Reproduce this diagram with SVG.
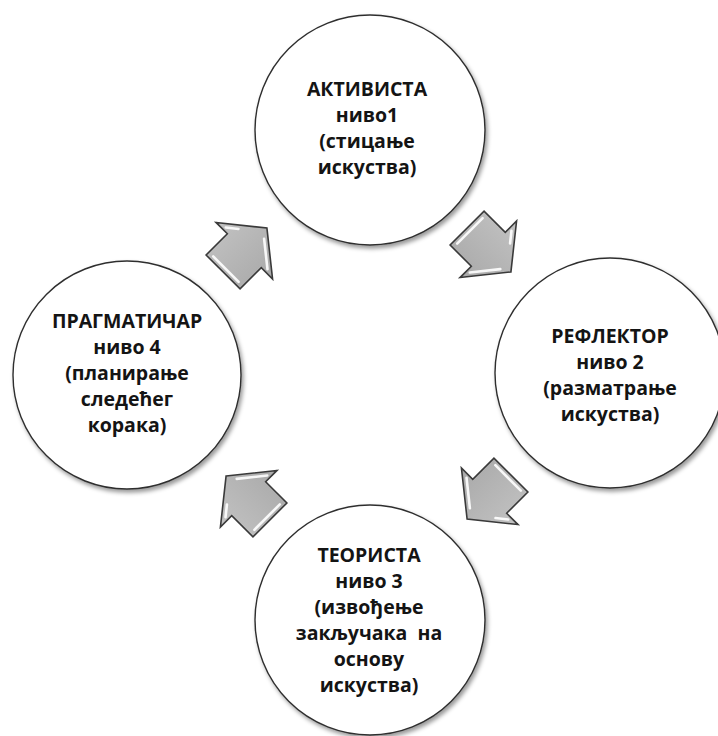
<svg xmlns="http://www.w3.org/2000/svg" xmlns:xlink="http://www.w3.org/1999/xlink" width="718" height="736" viewBox="0 0 718 736">
  <defs>
    <style>
      .stage { fill: #ffffff; stroke: #2e2e2e; stroke-width: 1.4; filter: url(#softShadow); }
      .label { font-family: "Open Sans", "Noto Sans", "DejaVu Sans", sans-serif; font-weight: 700; font-size: 19.5px; fill: #141414; text-anchor: middle; }
      .arrow-body { fill: url(#arrowFill); stroke: #3a3a3a; stroke-width: 1.6; stroke-linejoin: miter; }
      .arrow-glint { fill: none; stroke: #ffffff; stroke-width: 2.6; stroke-linecap: round; opacity: 0.9; }
    </style>
    <filter id="softShadow" x="-10%" y="-10%" width="125%" height="125%">
      <feDropShadow dx="2" dy="3" stdDeviation="2" flood-color="#000000" flood-opacity="0.4"/>
    </filter>
    <linearGradient id="arrowFill" x1="0" y1="0" x2="0" y2="1">
      <stop offset="0" stop-color="#c2c2c2"/>
      <stop offset="1" stop-color="#a9a9a9"/>
    </linearGradient>
    <!-- block arrow pointing along +x, centred on the barb line -->
    <g id="cycleArrow">
      <path class="arrow-body" d="M31,0 L-1,40 L-1,24 L-31,24 L-31,-24 L-1,-24 L-1,-40 Z"/>
      <path class="arrow-glint" d="M21.5,5.5 L2.3,29.5"/>
      <path class="arrow-glint" d="M-27,-18 L-27,18"/>
      <path class="arrow-glint" d="M2.3,-29.5 L10.3,-19.5"/>
    </g>
  </defs>

  <rect width="718" height="736" fill="#ffffff"/>

  <g id="connectors">
    <use xlink:href="#cycleArrow" transform="translate(245,250) rotate(-45)"/>
    <use xlink:href="#cycleArrow" transform="translate(489,250) rotate(45)"/>
    <use xlink:href="#cycleArrow" transform="translate(489,497) rotate(135)"/>
    <use xlink:href="#cycleArrow" transform="translate(248,498) rotate(-135)"/>
  </g>

  <g id="activist">
    <circle class="stage" cx="370" cy="130" r="115"/>
    <text class="label" x="367" y="96">АКТИВИСТА</text>
    <text class="label" x="367" y="122">ниво1</text>
    <text class="label" x="367" y="148">(стицање</text>
    <text class="label" x="367" y="174">искуства)</text>
  </g>

  <g id="reflector">
    <circle class="stage" cx="610" cy="373" r="115"/>
    <text class="label" x="610" y="343">РЕФЛЕКТОР</text>
    <text class="label" x="610" y="369">ниво 2</text>
    <text class="label" x="610" y="395">(разматрање</text>
    <text class="label" x="610" y="421">искуства)</text>
  </g>

  <g id="theorist">
    <circle class="stage" cx="370" cy="620" r="115"/>
    <text class="label" x="369" y="562">ТЕОРИСТА</text>
    <text class="label" x="369" y="588">ниво 3</text>
    <text class="label" x="369" y="614">(извођење</text>
    <text class="label" x="369" y="640" xml:space="preserve">закључака  на</text>
    <text class="label" x="369" y="666">основу</text>
    <text class="label" x="369" y="692">искуства)</text>
  </g>

  <g id="pragmatist">
    <circle class="stage" cx="127" cy="375" r="114"/>
    <text class="label" x="127" y="328">ПРАГМАТИЧАР</text>
    <text class="label" x="127" y="354">ниво 4</text>
    <text class="label" x="127" y="380">(планирање</text>
    <text class="label" x="127" y="406">следећег</text>
    <text class="label" x="127" y="432">корака)</text>
  </g>
</svg>
